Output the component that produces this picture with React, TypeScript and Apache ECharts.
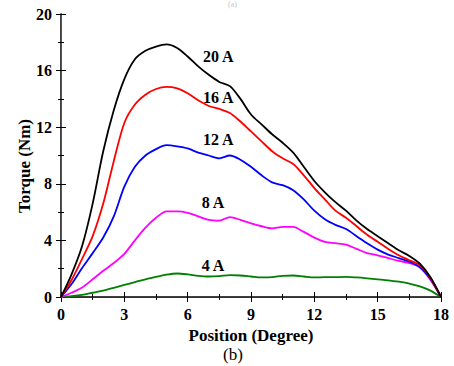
import React, { useEffect, useRef } from "react";
import * as echarts from "echarts";

const positions = [0, 0.5, 1, 1.5, 2, 2.5, 3, 3.5, 4, 4.5, 5, 5.5, 6, 6.5, 7, 7.5, 8, 8.5, 9, 9.5, 10, 10.5, 11, 11.5, 12, 12.5, 13, 13.5, 14, 14.5, 15, 15.5, 16, 16.5, 17, 17.5, 18];

const torque20A = [0, 1.6, 3.6, 6.6, 10.3, 13.2, 15.4, 16.8, 17.4, 17.7, 17.85, 17.6, 17.0, 16.3, 15.7, 15.2, 14.9, 14.0, 12.9, 12.2, 11.5, 10.9, 10.2, 9.2, 8.2, 7.4, 6.7, 6.1, 5.4, 4.8, 4.3, 3.8, 3.3, 2.9, 2.35, 1.4, 0];
const torque16A = [0, 1.2, 2.7, 4.3, 6.6, 9.6, 12.3, 13.6, 14.3, 14.7, 14.85, 14.75, 14.4, 13.9, 13.5, 13.3, 13.0, 12.4, 11.7, 11.0, 10.3, 9.8, 9.4, 8.6, 7.7, 6.9, 6.1, 5.6, 5.0, 4.4, 3.9, 3.4, 2.95, 2.6, 2.25, 1.35, 0];
const torque12A = [0, 0.92, 2.05, 3.1, 4.2, 5.7, 7.8, 9.2, 10.0, 10.45, 10.73, 10.65, 10.5, 10.2, 10.0, 9.8, 10.0, 9.7, 9.2, 8.6, 8.1, 7.9, 7.55, 6.9, 6.1, 5.5, 5.1, 4.8, 4.3, 3.8, 3.35, 3.0, 2.75, 2.5, 2.1, 1.3, 0];
const torque8A = [0, 0.3, 0.67, 1.25, 1.85, 2.4, 3.05, 4.0, 4.9, 5.6, 6.05, 6.05, 5.95, 5.7, 5.45, 5.4, 5.65, 5.45, 5.2, 5.0, 4.85, 4.95, 4.95, 4.6, 4.2, 3.9, 3.8, 3.7, 3.4, 3.1, 2.95, 2.75, 2.55, 2.4, 2.1, 1.2, 0];
const torque4A = [0, 0.06, 0.15, 0.3, 0.45, 0.65, 0.85, 1.05, 1.25, 1.42, 1.58, 1.66, 1.6, 1.5, 1.45, 1.48, 1.55, 1.52, 1.45, 1.38, 1.4, 1.5, 1.52, 1.45, 1.38, 1.4, 1.4, 1.42, 1.38, 1.32, 1.25, 1.18, 1.08, 0.95, 0.75, 0.45, 0];

const seriesNames = ["20 A", "16 A", "12 A", "8 A", "4 A"];
const seriesColors = ["#000000", "#ff0000", "#0000ff", "#ff00ff", "#008000"];
const labelX = [7.45, 7.45, 7.45, 7.2, 7.2];
const labelY = [17.0, 14.1, 11.1, 6.7, 2.25];

const xTicks = [0, 3, 6, 9, 12, 15, 18];
const yTicks = [0, 4, 8, 12, 16, 20];

const FONT = "'Liberation Serif', 'DejaVu Serif', serif";

export default function App() {
  const ref = useRef<HTMLDivElement>(null);
  useEffect(() => {
    if (!ref.current) return;
    const chart = echarts.init(ref.current, null, { renderer: "svg" });
    const all = [torque20A, torque16A, torque12A, torque8A, torque4A];
    const axisLine = { show: true, lineStyle: { color: "#000", width: 1.5 } };
    const tick = { show: true, inside: true, length: 5, lineStyle: { color: "#000", width: 1 } };
    const minor = { show: true, splitNumber: 2, length: 3, lineStyle: { color: "#000", width: 1 } };
    chart.setOption({
      animation: false,
      backgroundColor: "#ffffff",
      grid: { left: 61, right: 13, top: 14, bottom: 69, containLabel: false },
      xAxis: [
        {
          type: "value", min: xTicks[0], max: xTicks[xTicks.length - 1], interval: 3,
          name: "Position (Degree)", nameLocation: "middle", nameGap: 30,
          nameTextStyle: { fontFamily: FONT, fontWeight: "bold", fontSize: 17, color: "#000" },
          axisLine, axisTick: tick, minorTick: minor,
          axisLabel: { fontFamily: FONT, fontWeight: "bold", fontSize: 16, color: "#000", margin: 9 },
          splitLine: { show: false },
        },
        {
          type: "value", position: "top", min: 0, max: 18, interval: 3,
          axisLine: { show: true, lineStyle: { color: "#333", width: 1 } },
          axisTick: tick, minorTick: minor, axisLabel: { show: false }, splitLine: { show: false },
        },
      ],
      yAxis: [
        {
          type: "value", min: yTicks[0], max: yTicks[yTicks.length - 1], interval: 4,
          axisLine, axisTick: tick, minorTick: minor,
          axisLabel: { fontFamily: FONT, fontWeight: "bold", fontSize: 16, color: "#000", margin: 9 },
          splitLine: { show: false },
        },
        {
          type: "value", position: "right", min: 0, max: 20, interval: 4,
          axisLine: { show: true, lineStyle: { color: "#555", width: 1 } },
          axisTick: tick, minorTick: minor, axisLabel: { show: false }, splitLine: { show: false },
        },
      ],
      graphic: [
        {
          type: "text", x: 24, y: 166, rotation: Math.PI / 2,
          style: { text: "Torque (Nm)", font: `bold 17px ${FONT}`, fill: "#000", align: "center", verticalAlign: "middle" },
        },
        {
          type: "text", x: 233, y: 354,
          style: { text: "(b)", font: `17px ${FONT}`, fill: "#000", align: "center", verticalAlign: "middle" },
        },
        { type: "text", left: 228, top: 0, style: { text: "(a)", font: `8px ${FONT}`, fill: "#c8c8c8" } },
      ],
      series: [
        ...all.map((vals, i) => ({
          type: "line",
          name: seriesNames[i],
          data: positions.map((p, j) => [p, vals[j]]),
          smooth: 0.3,
          showSymbol: false,
          lineStyle: { color: seriesColors[i], width: 1.8 },
          itemStyle: { color: seriesColors[i] },
          z: 3 + (5 - i),
        })),
        {
          type: "scatter",
          symbolSize: 0,
          itemStyle: { opacity: 1 },
          data: seriesNames.map((n, i) => ({ value: [labelX[i], labelY[i]], name: n })),
          label: {
            show: true, position: "inside", formatter: (p: any) => p.name,
            fontFamily: FONT, fontWeight: "bold", fontSize: 16, color: "#000",
          },
          z: 10,
        },
      ],
    });
    return () => chart.dispose();
  }, []);
  return <div ref={ref} style={{ position: "absolute", left: 0, top: 0, width: 454, height: 366 }} />;
}
